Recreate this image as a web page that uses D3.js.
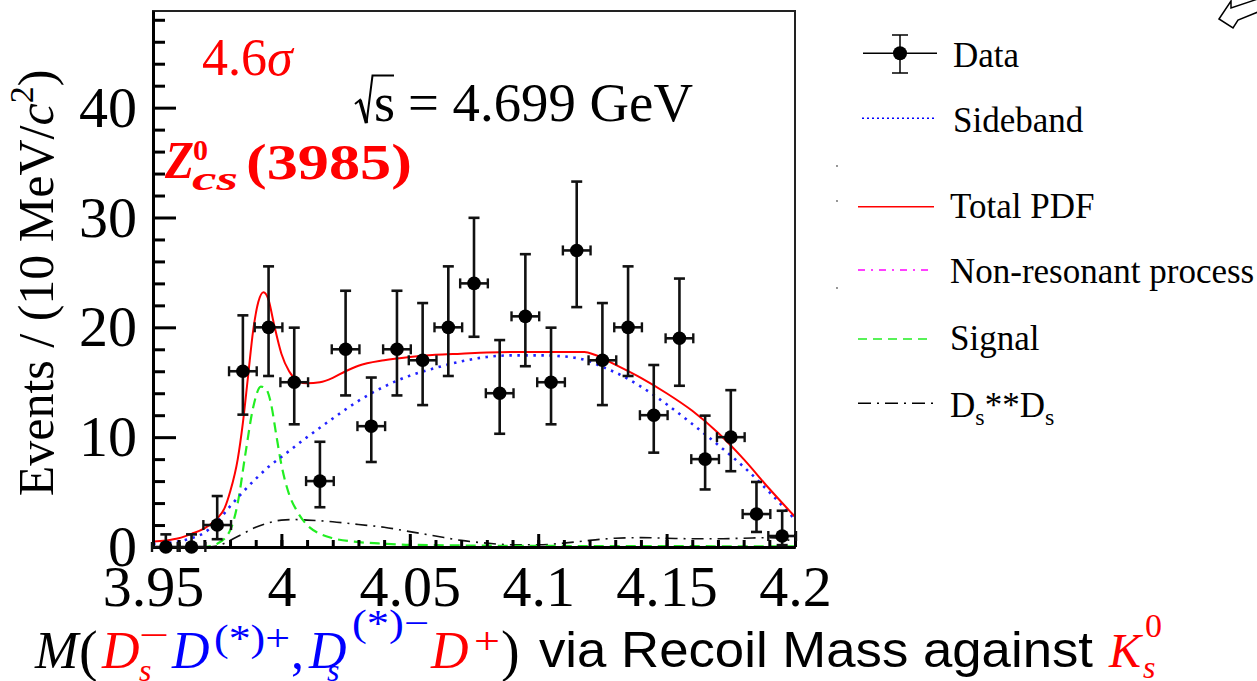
<!DOCTYPE html>
<html><head><meta charset="utf-8">
<script src="https://cdn.jsdelivr.net/npm/d3@7"></script>
<style>html,body{margin:0;padding:0;background:#fff;} svg{display:block;}</style>
</head><body>
<svg id="c" width="1257" height="681"></svg>
<script>
// ---------- data ----------
const binCenters = [3.955,3.965,3.975,3.985,3.995,4.005,4.015,4.025,4.035,4.045,4.055,4.065,4.075,4.085,4.095,4.105,4.115,4.125,4.135,4.145,4.155,4.165,4.175,4.185,4.195];
const counts     = [0,0,2,16,20,15,6,18,11,18,17,20,24,14,21,15,27,17,20,12,19,8,10,3,1];
const errHigh    = [1.15,1.15,2.64,5.09,5.55,4.97,3.58,5.33,4.43,5.33,5.21,5.55,5.97,4.84,5.66,4.97,6.27,5.21,5.55,4.57,5.44,3.96,4.28,2.92,2.30];
const errLow     = [0,0,1.29,3.95,4.43,3.83,2.38,4.20,3.26,4.20,4.08,4.43,4.86,3.69,4.54,3.83,5.16,4.08,4.43,3.41,4.32,2.76,3.10,1.63,0.83];
const binHalfWidth = 0.005;

const totalX = [3.95,3.955,3.96,3.965,3.97,3.975,3.978,3.98,3.983,3.985,3.987,3.989,3.991,3.993,3.995,3.997,4.0,4.003,4.006,4.01,4.015,4.02,4.025,4.03,4.04,4.05,4.06,4.07,4.08,4.09,4.1,4.11,4.118,4.122,4.13,4.14,4.15,4.16,4.17,4.18,4.19,4.2];
const totalY = [0.5,0.6,0.8,1.2,1.7,2.6,3.6,5.0,8.0,11.3,15.5,19.7,22.3,23.2,22.5,20.4,17.6,16.0,15.2,14.9,15.0,15.4,16.0,16.5,17.0,17.3,17.5,17.6,17.7,17.75,17.75,17.75,17.75,17.5,16.6,15.4,14.0,12.4,10.4,8.0,5.3,2.75];

const sidebandX = [3.95,3.96,3.965,3.97,3.975,3.98,3.985,3.99,3.995,4.0,4.01,4.02,4.03,4.04,4.05,4.06,4.07,4.08,4.09,4.1,4.11,4.115,4.12,4.125,4.13,4.14,4.15,4.16,4.17,4.18,4.19,4.2];
const sidebandY = [0.3,0.5,0.8,1.3,2.3,3.7,5.0,6.2,7.3,8.2,10.0,11.7,13.3,14.6,15.6,16.3,16.9,17.3,17.45,17.45,17.35,17.2,16.9,16.4,15.9,14.6,13.0,11.2,9.3,7.3,5.0,2.5];

const signalX = [3.95,3.97,3.975,3.98,3.983,3.986,3.989,3.992,3.994,3.996,3.998,4.0,4.003,4.006,4.01,4.015,4.02,4.03,4.04,4.05,4.1,4.15,4.2];
const signalY = [0,0,0.3,1.5,4.0,8.5,12.7,14.6,14.4,13.0,10.2,7.5,4.8,3.3,2.0,1.2,0.8,0.45,0.3,0.2,0.1,0.08,0.05];

const dsdsX = [3.95,3.97,3.975,3.98,3.985,3.99,3.995,4.0,4.005,4.01,4.02,4.03,4.04,4.05,4.06,4.07,4.08,4.09,4.1,4.11,4.12,4.13,4.14,4.15,4.16,4.17,4.18,4.19,4.2];
const dsdsY = [0,0,0.1,0.6,1.2,1.8,2.2,2.45,2.5,2.45,2.3,2.05,1.8,1.4,1.0,0.6,0.35,0.2,0.2,0.35,0.6,0.8,0.85,0.8,0.75,0.75,0.8,0.85,0.5];

const nonresX = [3.95,4.0,4.05,4.1,4.15,4.2];
const nonresY = [0,0,0,0,0,0];

const xMajorTicks = [3.95,4.0,4.05,4.1,4.15,4.2];
const xTickLabels = ["3.95","4","4.05","4.1","4.15","4.2"];
const xMinorTicks = d3.range(0,26).map(i => +(3.95 + i*0.01).toFixed(3));
const yMajorTicks = [0,10,20,30,40];
const yTickLabels = ["0","10","20","30","40"];
const yMinorTicks = [2,4,6,8,12,14,16,18,22,24,26,28,32,34,36,38,42,44,46,48];

const legendLabels = ["Data","Sideband","Total PDF","Non-resonant process","Signal","Ds**Ds"];

// ---------- drawing ----------
const svg = d3.select("#c");
const SERIF = "'Liberation Serif','Times New Roman',serif";
const SANS = "'Liberation Sans',Arial,sans-serif";
const L = 153, R = 795, T = 11, B = 547;
const x = d3.scaleLinear().domain([3.95,4.2]).range([L,R]);
const y = d3.scaleLinear().domain([0,48.8]).range([B,T]);

svg.append("defs").append("clipPath").attr("id","pc")
  .append("rect").attr("x",L).attr("y",T).attr("width",R-L).attr("height",B-T);

const plot = svg.append("g").attr("clip-path","url(#pc)");
const line = (xs,ys) => d3.line().x((d,i)=>x(xs[i])).y(d=>y(d)).curve(d3.curveMonotoneX)(ys);

plot.append("path").attr("d",line(nonresX,nonresY)).attr("fill","none")
  .attr("stroke","#ff00ff").attr("stroke-width",2).attr("stroke-dasharray","8,5,2,5");
plot.append("path").attr("d",line(dsdsX,dsdsY)).attr("fill","none")
  .attr("stroke","#111").attr("stroke-width",1.6).attr("stroke-dasharray","12,6,2,6");
plot.append("path").attr("d",line(signalX,signalY)).attr("fill","none")
  .attr("stroke","#22ee22").attr("stroke-width",2.2).attr("stroke-dasharray","10,6");
plot.append("path").attr("d",line(sidebandX,sidebandY)).attr("fill","none")
  .attr("stroke","#2222ff").attr("stroke-width",2.6).attr("stroke-dasharray","2.5,5.5");
plot.append("path").attr("d",line(totalX,totalY)).attr("fill","none")
  .attr("stroke","#ff0000").attr("stroke-width",2);

// frame
svg.append("rect").attr("x",L).attr("y",T).attr("width",R-L).attr("height",B-T)
  .attr("fill","none").attr("stroke","#222").attr("stroke-width",2);

// axes
function styleAxis(g){ g.select(".domain").attr("stroke","#000").attr("stroke-width",3);
  g.selectAll(".tick line").attr("stroke","#000").attr("stroke-width",3);
  g.selectAll(".tick text").attr("font-family",SERIF).attr("font-size",58).attr("fill","#000"); }
const gxm = svg.append("g").attr("transform",`translate(0,${B})`)
  .call(d3.axisBottom(x).tickValues(xMinorTicks).tickSize(-7).tickSizeOuter(0).tickFormat(""));
styleAxis(gxm);
const gx = svg.append("g").attr("transform",`translate(0,${B})`)
  .call(d3.axisBottom(x).tickValues(xMajorTicks).tickSize(-13).tickSizeOuter(0).tickPadding(18)
  .tickFormat((d,i)=>xTickLabels[i]));
styleAxis(gx);
const gym = svg.append("g").attr("transform",`translate(${L},0)`)
  .call(d3.axisLeft(y).tickValues(yMinorTicks).tickSize(-12).tickSizeOuter(0).tickFormat(""));
styleAxis(gym);
const gy = svg.append("g").attr("transform",`translate(${L},0)`)
  .call(d3.axisLeft(y).tickValues(yMajorTicks).tickSize(-23).tickSizeOuter(0).tickPadding(16)
  .tickFormat((d,i)=>yTickLabels[i]));
styleAxis(gy);

// data points
const pts = svg.append("g");
const pd = binCenters.map((c,i)=>({c, n:counts[i], lo:errLow[i], hi:errHigh[i]}));
const pg = pts.selectAll("g").data(pd).join("g");
pg.append("line").attr("x1",d=>x(d.c)).attr("x2",d=>x(d.c))
  .attr("y1",d=>y(d.n-d.lo)).attr("y2",d=>y(d.n+d.hi)).attr("stroke","#111").attr("stroke-width",2.6);
pg.append("line").attr("x1",d=>x(d.c)-5.5).attr("x2",d=>x(d.c)+5.5)
  .attr("y1",d=>y(d.n+d.hi)).attr("y2",d=>y(d.n+d.hi)).attr("stroke","#111").attr("stroke-width",2.6);
pg.filter(d=>d.lo>0).append("line").attr("x1",d=>x(d.c)-5.5).attr("x2",d=>x(d.c)+5.5)
  .attr("y1",d=>y(d.n-d.lo)).attr("y2",d=>y(d.n-d.lo)).attr("stroke","#111").attr("stroke-width",2.6);
pg.append("line").attr("x1",d=>x(d.c-binHalfWidth)-1).attr("x2",d=>x(d.c+binHalfWidth)+1)
  .attr("y1",d=>y(d.n)).attr("y2",d=>y(d.n)).attr("stroke","#111").attr("stroke-width",2.6);
pg.append("line").attr("x1",d=>x(d.c-binHalfWidth)-1).attr("x2",d=>x(d.c-binHalfWidth)-1)
  .attr("y1",d=>y(d.n)-5).attr("y2",d=>y(d.n)+5).attr("stroke","#111").attr("stroke-width",2.4);
pg.append("line").attr("x1",d=>x(d.c+binHalfWidth)+1).attr("x2",d=>x(d.c+binHalfWidth)+1)
  .attr("y1",d=>y(d.n)-5).attr("y2",d=>y(d.n)+5).attr("stroke","#111").attr("stroke-width",2.4);
pg.append("circle").attr("cx",d=>x(d.c)).attr("cy",d=>y(d.n)).attr("r",6.8).attr("fill","#000");

// y-axis title
const yt = svg.append("text").attr("transform","translate(53,283) rotate(-90)")
  .attr("text-anchor","middle").attr("font-family",SERIF).attr("font-size",50).attr("fill","#000");
yt.append("tspan").text("Events / (10 MeV/");
yt.append("tspan").attr("font-style","italic").text("c");
yt.append("tspan").attr("font-size",34).attr("dy",-20).text("2");
yt.append("tspan").attr("dy",20).text(")");

// annotations
svg.append("text").attr("x",202).attr("y",75).attr("font-family",SERIF).attr("font-size",52)
  .attr("fill","#ff0000").text("4.6").append("tspan").attr("font-style","italic").text("σ");

// sqrt(s) = 4.699 GeV
svg.append("path").attr("d","M355,104 L360,100 L366.5,123 L372.5,75.5 L394,75.5")
  .attr("fill","none").attr("stroke","#000").attr("stroke-width",2).attr("stroke-linejoin","miter");
svg.append("line").attr("x1",360).attr("x2",366.5).attr("y1",100).attr("y2",123).attr("stroke","#000").attr("stroke-width",3.5);
svg.append("text").attr("x",374).attr("y",121).attr("font-family",SERIF).attr("font-size",54).attr("fill","#000").text("s");
svg.append("text").attr("x",408).attr("y",121).attr("font-family",SERIF).attr("font-size",54).attr("fill","#000")
  .attr("textLength",285).attr("lengthAdjust","spacingAndGlyphs").text("= 4.699 GeV");

// Z_cs^0(3985)
const zf = "'Liberation Serif',serif";
svg.append("text").attr("x",165).attr("y",178).attr("font-family",zf).attr("font-weight","bold").attr("font-style","italic")
  .attr("font-size",52).attr("fill","#ff0000").attr("textLength",29).attr("lengthAdjust","spacingAndGlyphs").text("Z");
svg.append("text").attr("x",193).attr("y",160).attr("font-family",zf).attr("font-weight","bold")
  .attr("font-size",30).attr("fill","#ff0000").text("0");
svg.append("text").attr("x",192).attr("y",190).attr("font-family",zf).attr("font-weight","bold").attr("font-style","italic")
  .attr("font-size",34).attr("fill","#ff0000").attr("textLength",46).attr("lengthAdjust","spacingAndGlyphs").text("cs");
svg.append("text").attr("x",246).attr("y",179).attr("font-family",zf).attr("font-weight","bold")
  .attr("font-size",50).attr("fill","#ff0000").attr("textLength",166).attr("lengthAdjust","spacingAndGlyphs").text("(3985)");

// legend
const lg = svg.append("g");
const legY = [53.3,118.3,206.7,270,339,403.3];
const legTextY = [67,131.7,218.3,283.3,350,416.7];
const legTextX = [953,953,950,950,950,950];
lg.append("line").attr("x1",863).attr("x2",937).attr("y1",legY[0]).attr("y2",legY[0]).attr("stroke","#000").attr("stroke-width",1.5);
lg.append("line").attr("x1",900).attr("x2",900).attr("y1",35).attr("y2",73).attr("stroke","#000").attr("stroke-width",1.5);
lg.append("line").attr("x1",892).attr("x2",908).attr("y1",35).attr("y2",35).attr("stroke","#000").attr("stroke-width",1.5);
lg.append("line").attr("x1",892).attr("x2",908).attr("y1",73).attr("y2",73).attr("stroke","#000").attr("stroke-width",1.5);
lg.append("circle").attr("cx",900).attr("cy",legY[0]).attr("r",7).attr("fill","#000");
const legStyles = [null,
  {x1:862,x2:935,c:"#0000ff",da:"2,3",w:1.5},
  {x1:858,x2:934,c:"#ff0000",da:null,w:1.5},
  {x1:858,x2:928,c:"#ff00ff",da:"7,6,2,6",w:1.5},
  {x1:858,x2:930,c:"#22ee22",da:"9,6",w:1.6},
  {x1:858,x2:934,c:"#000",da:"13,6,2,6",w:1.5}];
legStyles.forEach((s,i)=>{ if(!s) return;
  lg.append("line").attr("x1",s.x1).attr("x2",s.x2).attr("y1",legY[i]).attr("y2",legY[i])
    .attr("stroke",s.c).attr("stroke-width",s.w).attr("stroke-dasharray",s.da); });
legendLabels.forEach((lab,i)=>{
  const t = lg.append("text").attr("x",legTextX[i]).attr("y",legTextY[i]).attr("font-family",SERIF)
    .attr("font-size",35).attr("fill","#000");
  if (lab === "Ds**Ds") {
    t.append("tspan").text("D");
    t.append("tspan").attr("font-size",24).attr("dy",8).text("s");
    t.append("tspan").attr("dy",-8).text("**D");
    t.append("tspan").attr("font-size",24).attr("dy",8).text("s");
  } else t.text(lab);
});
[[837,166],[837,201],[837,288]].forEach(p=>svg.append("circle").attr("cx",p[0]).attr("cy",p[1]).attr("r",0.9).attr("fill","#666"));

// arrow top right
svg.append("path").attr("d","M1219,19 L1231,1 L1231,8 L1258,-1 L1258,12 L1238,20 L1233,28 Z")
  .attr("fill","#fff").attr("stroke","#000").attr("stroke-width",1.5).attr("stroke-linejoin","miter");

// bottom title
const BY = 668;
const MI = "'Liberation Serif',serif";
function tx(xp,yp,str,opt){ const t = svg.append("text").attr("x",xp).attr("y",yp).attr("font-family",opt.f||MI)
  .attr("font-size",opt.s).attr("fill",opt.c||"#000").text(str);
  if(opt.i) t.attr("font-style","italic"); if(opt.tl) t.attr("textLength",opt.tl).attr("lengthAdjust","spacingAndGlyphs"); return t; }
tx(35,BY,"M",{s:52,i:1});
tx(79,BY+2,"(",{s:56});
tx(102,BY,"D",{s:52,i:1,c:"#ff0000"});
tx(139,BY+13,"s",{s:32,i:1,c:"#ff0000"});
tx(139,BY-20,"−",{s:38,c:"#ff0000",tl:30});
tx(172,BY,"D",{s:52,i:1,c:"#0000ff"});
tx(214,BY-17,"(*)+",{s:38,c:"#0000ff",tl:76});
tx(291,BY,",",{s:52,c:"#0000ff"});
tx(309,BY,"D",{s:52,i:1,c:"#0000ff"});
tx(327,BY+13,"s",{s:32,i:1,c:"#0000ff"});
tx(352,BY-32,"(*)−",{s:38,c:"#0000ff",tl:77});
tx(431,BY,"D",{s:52,i:1,c:"#ff0000"});
tx(474,BY-14,"+",{s:38,c:"#ff0000",tl:26});
tx(501,BY+2,")",{s:56});
tx(539,BY-1,"via Recoil Mass against",{s:50,f:SANS,tl:554});
tx(1109,BY-1,"K",{s:48,i:1,c:"#ff0000"});
tx(1145,BY-31,"0",{s:34,c:"#ff0000"});
tx(1143,BY+10,"s",{s:32,i:1,c:"#ff0000"});
</script>
</body></html>
